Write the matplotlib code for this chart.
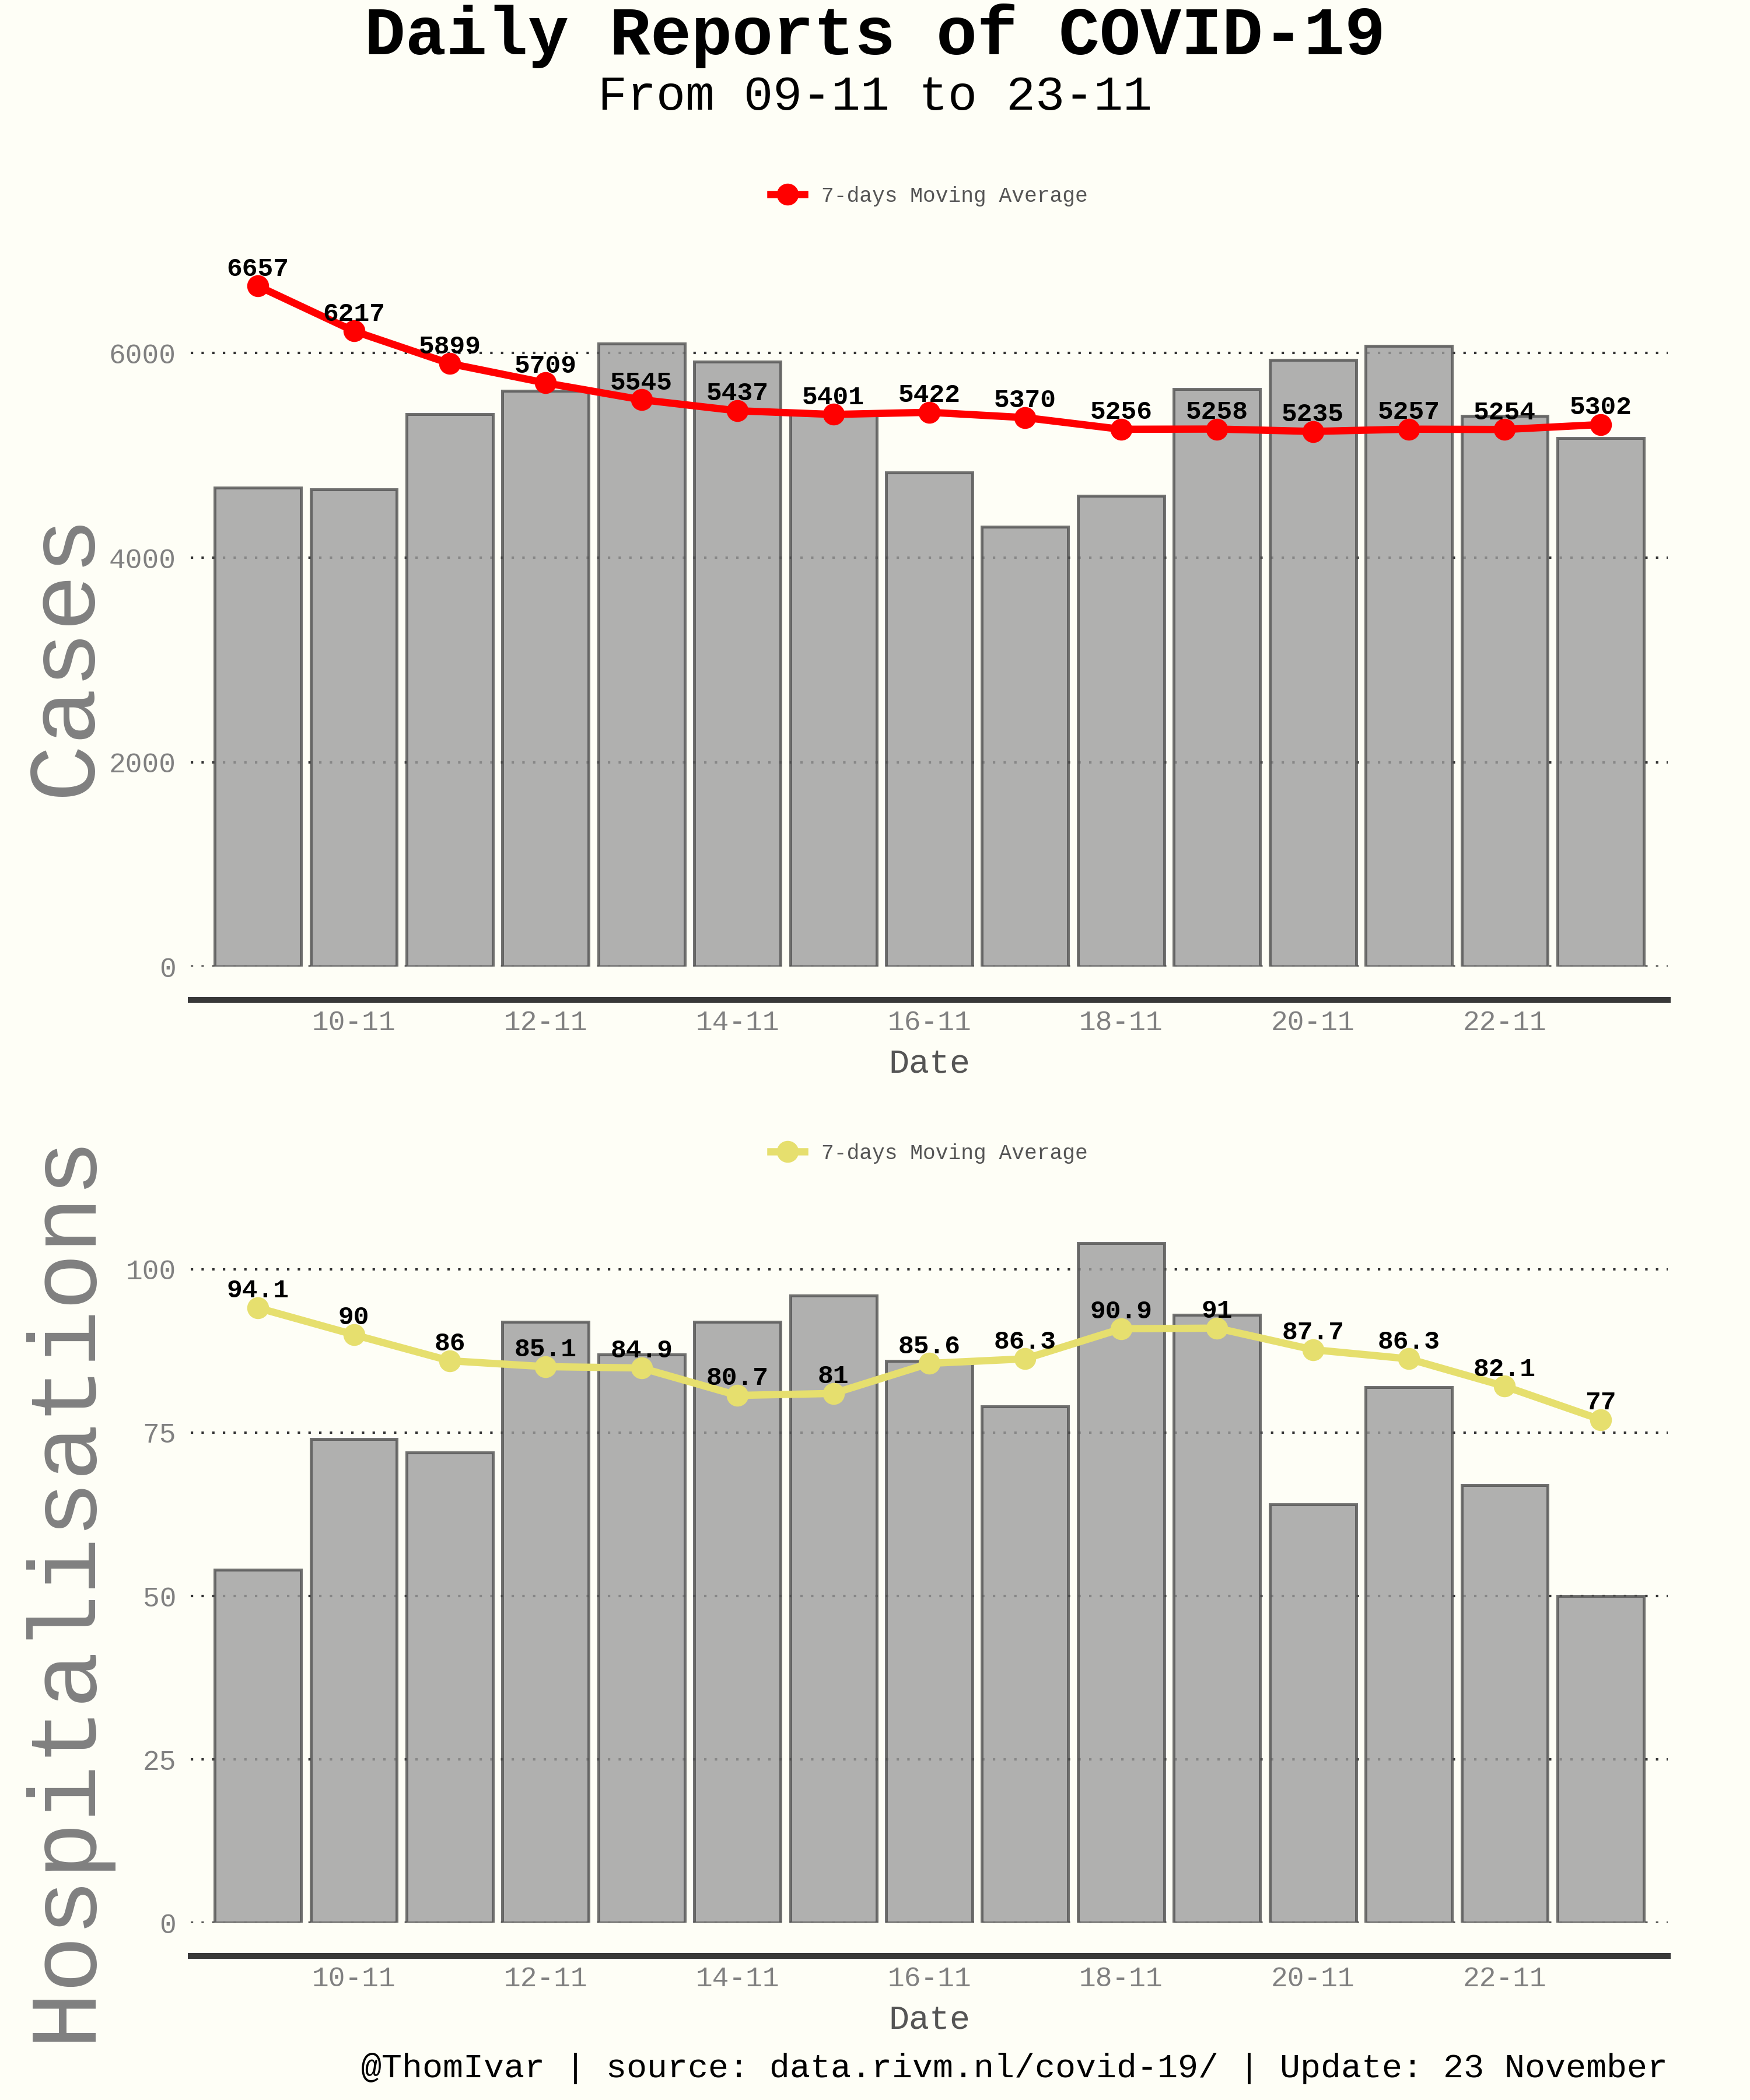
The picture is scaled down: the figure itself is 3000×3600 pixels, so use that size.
import numpy as np
from matplotlib import pyplot as plt

# Data.
dates = ['09-11', '10-11', '11-11', '12-11', '13-11', '14-11', '15-11', '16-11',
         '17-11', '18-11', '19-11', '20-11', '21-11', '22-11', '23-11']
cases = [4685, 4665, 5405, 5634, 6095, 5917, 5409, 4832, 4301, 4607, 5648, 5934,
         6071, 5388, 5168]
cases_avg = [6657, 6217, 5899, 5709, 5545, 5437, 5401, 5422, 5370, 5256, 5258,
             5235, 5257, 5254, 5302]
hosp = [54, 74, 72, 92, 87, 92, 96, 86, 79, 104, 93, 64, 82, 67, 50]
hosp_avg = [94.1, 90, 86, 85.1, 84.9, 80.7, 81, 85.6, 86.3, 90.9, 91, 87.7, 86.3,
            82.1, 77]

BG = '#fefef6'
FONT = ['Liberation Mono', 'DejaVu Sans Mono']
plt.rcParams['font.family'] = FONT


def Label(v):
  return '{:g}'.format(v)


def PlotPanel(ax, values, avg, color, ylabel, yticks, label_y):
  x = np.arange(len(dates))
  ax.set_facecolor(BG)
  ax.bar(x, values, width=0.9, color='#9d9d9d', edgecolor='#505050',
         linewidth=1.2, alpha=0.8, zorder=2)
  ax.plot(x, avg, '-o', color=color, linewidth=3, markersize=8, zorder=3,
          label='7-days Moving Average')
  for xi, v in zip(x, avg):
    ax.annotate(Label(v), (xi, v), xytext=(0, 7), textcoords='offset points',
                ha='center', va='center', fontsize=10.7, fontweight='bold',
                color='black', zorder=4)

  ax.set_xlim(-0.7, len(dates) - 0.3)
  ax.set_ylim(0, max(max(values), max(avg)) * 1.05)
  ax.set_yticks(yticks)
  ax.set_xticks(x[1::2])
  ax.set_xticklabels(dates[1::2])
  ax.set_axisbelow(True)
  ax.yaxis.grid(True, color='#333333', linewidth=1.0, linestyle=(0, (1, 3.4)))
  ax.xaxis.grid(False)

  for side in ('top', 'right', 'left'):
    ax.spines[side].set_visible(False)
  ax.spines['bottom'].set_position(('outward', 13.7))
  ax.spines['bottom'].set_color('#383838')
  ax.spines['bottom'].set_linewidth(2.4)

  ax.tick_params(axis='both', length=0, colors='#808080', labelsize=11.5)
  ax.tick_params(axis='x', pad=4)
  ax.tick_params(axis='y', pad=6)

  ax.set_xlabel('Date', fontsize=14, color='#555555', labelpad=5)
  ax.set_ylabel(ylabel, fontsize=39, color='#808080', va='center')
  ax.yaxis.set_label_coords(-0.0857, label_y)

  ax.legend(loc='center', bbox_to_anchor=(0.5, 1.078), frameon=False,
            fontsize=8.7, labelcolor='#555555', handlelength=1.6)


def Run():
  fig = plt.figure(figsize=(10, 12), dpi=300)
  fig.patch.set_facecolor(BG)

  ax1 = fig.add_axes([0.109, 0.5397, 0.844, 0.3403])
  ax2 = fig.add_axes([0.109, 0.0844, 0.844, 0.3398])

  PlotPanel(ax1, cases, cases_avg, '#ff0000', 'Cases', [0, 2000, 4000, 6000],
            0.437)
  PlotPanel(ax2, hosp, hosp_avg, '#e6df6e', 'Hospitalisations',
            [0, 25, 50, 75, 100], 0.471)

  fig.text(0.5, 0.983, 'Daily Reports of COVID-19', ha='center', va='center',
           fontsize=28, fontweight='bold', color='black')
  fig.text(0.5, 0.954, 'From 09-11 to 23-11', ha='center', va='center',
           fontsize=20, color='black')
  fig.text(0.953, 0.015,
           '@ThomIvar | source: data.rivm.nl/covid-19/ | Update: 23 November',
           ha='right', va='center', fontsize=14, color='black')

  fig.savefig('out.png', dpi=300, facecolor=BG)


if __name__ == '__main__':
  Run()
